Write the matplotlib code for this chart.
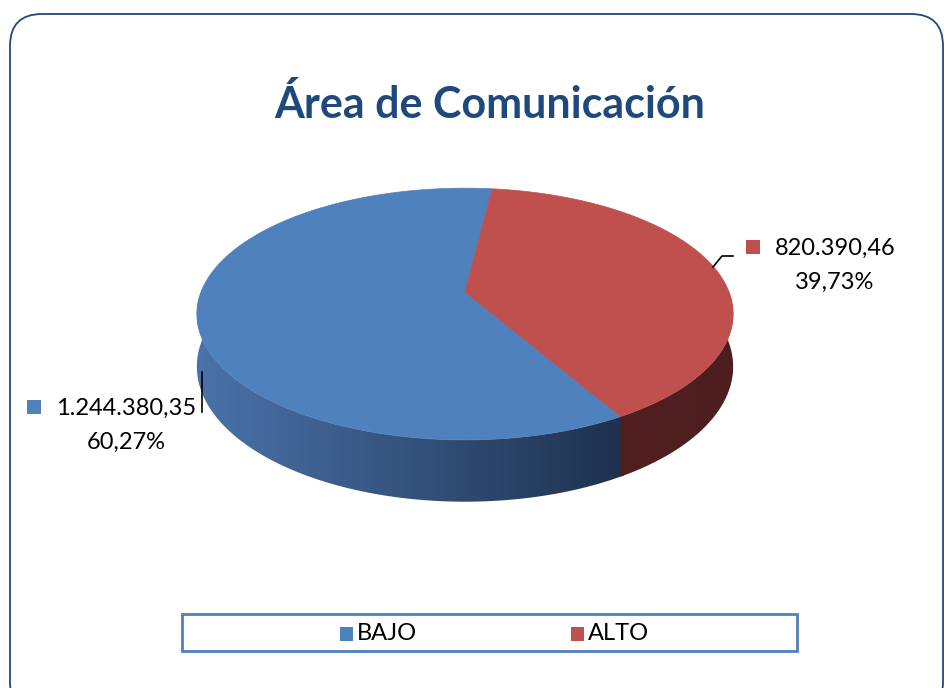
import numpy as np
import matplotlib
matplotlib.use("Agg")
import matplotlib.pyplot as plt
from matplotlib.patches import Polygon, FancyBboxPatch, Rectangle
from matplotlib.colors import LinearSegmentedColormap

# Data
title = "Área de Comunicación"
categories = ["BAJO", "ALTO"]
values = [1244380.35, 820390.46]
top_colors = ["#4f81bd", "#c0504d"]
side_grads = [["#4a73aa", "#1e314d"], ["#511f1f", "#4e1e1e"]]

plt.rcParams['font.family'] = ['Lato', 'DejaVu Sans']

# 3D pie geometry (pixel space)
cx, cy = 465, 292
a, b = 264, 122
p = 0.175          # perspective
depth = 51
start_angle = -60  # where the first slice begins, going clockwise


def project(theta, z=0.0):
    t = np.radians(theta)
    u = np.cos(t)
    v = -np.sin(t)
    w = 1 - p * v
    return cx + a * u / w, cy + b * v / w + z / w


def es_num(x):
    s = f"{x:,.2f}"
    return s.replace(",", "X").replace(".", ",").replace("X", ".")


fig = plt.figure(figsize=(9.44, 6.88), dpi=100)
ax = fig.add_axes([0, 0, 1, 1])
ax.axis('off')

# outer frame
frame = FancyBboxPatch((10, 14), 933, 700, boxstyle="round,pad=0,rounding_size=32",
                       facecolor='white', edgecolor='#1f497d', linewidth=1.3, zorder=0)
ax.add_patch(frame)

total = sum(values)
fracs = [v / total for v in values]

# slice angle ranges (clockwise)
ranges = []
ang = start_angle
for f in fracs:
    ranges.append((ang, ang - 360 * f))
    ang -= 360 * f

# sides: polygon of visible part, filled with a horizontal gradient
for i, (t0, t1) in enumerate(ranges):
    # small overlap so no gap shows between neighbouring sides
    thetas = np.linspace(t0 + 0.8, t1, 600)
    vis = np.sin(np.radians(thetas)) <= 0.02
    th = thetas[vis]
    if len(th) < 2:
        continue
    xt, yt = project(th)
    xb, yb = project(th[::-1], depth)
    pts = list(zip(xt, yt)) + list(zip(xb, yb))
    poly = Polygon(pts, closed=True, facecolor='none', edgecolor='none')
    ax.add_patch(poly)
    x0, x1 = min(xt.min(), xb.min()), max(xt.max(), xb.max())
    y0, y1 = min(yt.min(), yb.min()), max(yt.max(), yb.max())
    cmap = LinearSegmentedColormap.from_list(f"side{i}", side_grads[i])
    grad = np.linspace(0, 1, 256)[None, :]
    im = ax.imshow(grad, cmap=cmap, extent=(x0 - 1, x1 + 1, y1 + 1, y0 - 1),
                   aspect='auto', zorder=2 + 0.1 * i, interpolation='bilinear')
    im.set_clip_path(poly)

# tops
for i, (t0, t1) in enumerate(ranges):
    thetas = np.linspace(t0, t1, 300)
    xs, ys = project(thetas)
    pts = [(cx, cy)] + list(zip(xs, ys))
    ax.add_patch(Polygon(pts, closed=True, facecolor=top_colors[i],
                         edgecolor=top_colors[i], linewidth=0.5, zorder=3))

# title
ax.text(490, 104, title, ha='center', va='center', fontsize=31,
        fontweight='bold', color='#1f497d')

# data labels
lab_pos = [(126, 408), (835, 248)]
sq_pos = [(27, 400), (746, 240)]
for i, v in enumerate(values):
    x, y = lab_pos[i]
    ax.add_patch(Rectangle(sq_pos[i], 14, 14, facecolor=top_colors[i],
                           edgecolor='none', zorder=4))
    ax.text(x, y, es_num(v), ha='center', va='center', fontsize=17, color='black')
    ax.text(x, y + 34, f"{fracs[i] * 100:.2f}%".replace(".", ","), ha='center',
            va='center', fontsize=17, color='black')

# leader lines
ax.plot([202, 202], [372, 412], color='black', linewidth=1.2, zorder=5)
ax.plot([713, 722, 733], [267, 256, 256], color='black', linewidth=1.2, zorder=5)

# legend box
ax.add_patch(Rectangle((182, 614), 615, 37, facecolor='white',
                       edgecolor='#4f81bd', linewidth=2, zorder=4))
leg_x = [340, 571]
for i, c in enumerate(categories):
    ax.add_patch(Rectangle((leg_x[i], 627), 13, 14, facecolor=top_colors[i],
                           edgecolor='none', zorder=5))
    ax.text(leg_x[i] + 17, 634, c, ha='left', va='center', fontsize=17,
            color='black', zorder=5)

ax.set_xlim(0, 944)
ax.set_ylim(688, 0)
fig.savefig("out.png", dpi=100)
